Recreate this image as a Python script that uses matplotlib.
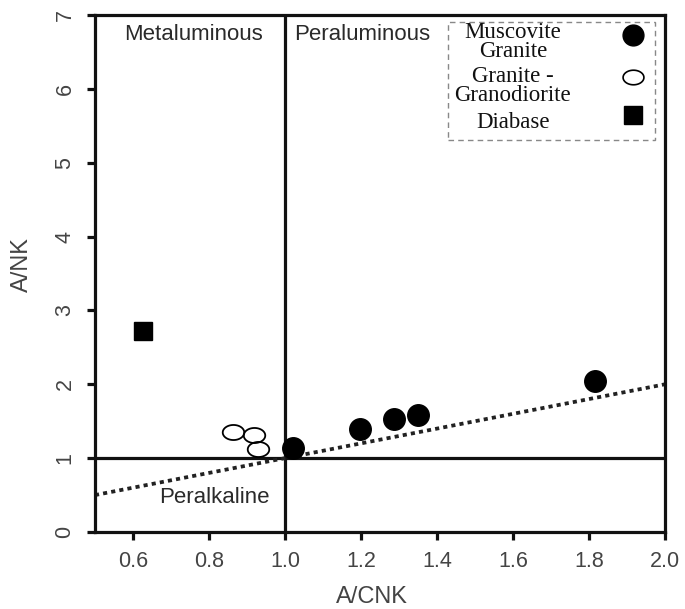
import numpy as np
import matplotlib
matplotlib.use('Agg')
import matplotlib.pyplot as plt
from matplotlib.path import Path
from matplotlib.lines import Line2D
from matplotlib.patches import Rectangle

# ---- data ----
musc_x = [1.02, 1.197, 1.287, 1.35, 1.816]
musc_y = [1.14, 1.39, 1.53, 1.59, 2.04]
gran_x = [0.863, 0.918, 0.929]
gran_y = [1.36, 1.32, 1.12]
diab_x = [0.626]
diab_y = [2.72]
ref_x = [0.5, 2.0]
ref_y = [0.5, 2.0]
xticks = [0.6, 0.8, 1.0, 1.2, 1.4, 1.6, 1.8, 2.0]
xticklabels = ['0.6', '0.8', '1.0', '1.2', '1.4', '1.6', '1.8', '2.0']
yticks = [0, 1, 2, 3, 4, 5, 6, 7]
yticklabels = ['0', '1', '2', '3', '4', '5', '6', '7']
legend_labels = ['Muscovite\nGranite', 'Granite -\nGranodiorite', 'Diabase']

plt.rcParams['font.family'] = ['Liberation Sans', 'DejaVu Sans']

t = np.linspace(0, 2 * np.pi, 65)
ell = Path(np.column_stack([np.cos(t), 0.7 * np.sin(t)]), closed=True)

fig = plt.figure(figsize=(6.85, 6.09), dpi=100)
ax = fig.add_axes([95 / 685, 1 - 532 / 609, 570 / 685, 517 / 609])
ax.set_xlim(0.5, 2.0)
ax.set_ylim(0, 7)

lw = 2.3
for s in ax.spines.values():
    s.set_linewidth(lw)
    s.set_color('#111111')

ax.axvline(1.0, color='#111111', lw=lw, zorder=2)
ax.axhline(1.0, color='#111111', lw=lw, zorder=2)
ax.plot(ref_x, ref_y, color='#222222', lw=2.7, linestyle=(0, (1.1, 1.1)),
        dash_capstyle='butt', zorder=2)

ax.plot(musc_x, musc_y, linestyle='none', marker='o', markersize=15.5,
        color='black', zorder=4)
ax.plot(gran_x, gran_y, linestyle='none', marker=ell, markersize=15.5,
        markerfacecolor='none', markeredgecolor='black', markeredgewidth=1.3, zorder=4)
ax.plot(diab_x, diab_y, linestyle='none', marker='s', markersize=13,
        color='black', zorder=4)

ax.set_xticks(xticks)
ax.set_xticklabels(xticklabels)
ax.set_yticks(yticks)
ax.set_yticklabels(yticklabels, rotation=90, va='center')
ax.tick_params(direction='out', length=6, width=2.3, color='#111111',
               labelsize=15.5, labelcolor='#444444')
ax.tick_params(axis='x', pad=8)
ax.tick_params(axis='y', pad=8)

ax.set_xlabel('A/CNK', fontsize=17, color='#444444')
ax.xaxis.set_label_coords(0.486, -0.105)
ax.xaxis.label.set_va('top')
ax.set_ylabel('A/NK', fontsize=17, color='#444444')
ax.yaxis.set_label_coords(-0.109, 0.518)

txtc = '#2a2a2a'
ax.text(0.76, 6.74, 'Metaluminous', ha='center', va='center', fontsize=16, color=txtc)
ax.text(1.203, 6.74, 'Peraluminous', ha='center', va='center', fontsize=16, color=txtc)
ax.text(0.813, 0.47, 'Peralkaline', ha='center', va='center', fontsize=16, color=txtc)

# legend (drawn by hand)
ax.add_patch(Rectangle((0.619, 0.758), 0.363, 0.228, transform=ax.transAxes,
                       facecolor='white', edgecolor='#888888', lw=1.0,
                       linestyle=(0, (4, 3)), zorder=5))
serif = ['Liberation Serif', 'DejaVu Serif']
text_y = [0.948, 0.863, 0.793]
mark_y = [0.961, 0.880, 0.807]
handles = [dict(marker='o', markersize=15, color='black'),
           dict(marker=ell, markersize=15, markerfacecolor='none',
                markeredgecolor='black', markeredgewidth=1.2),
           dict(marker='s', markersize=13, color='black')]
for lab, ty, my, h in zip(legend_labels, text_y, mark_y, handles):
    ax.text(0.733, ty, lab, transform=ax.transAxes, ha='center', va='center',
            multialignment='center', fontsize=16.5, family=serif,
            linespacing=0.85, color='#111111', zorder=6)
    ax.add_line(Line2D([0.944], [my], transform=ax.transAxes, linestyle='none',
                       zorder=6, **h))

fig.savefig('out.png', dpi=100)
